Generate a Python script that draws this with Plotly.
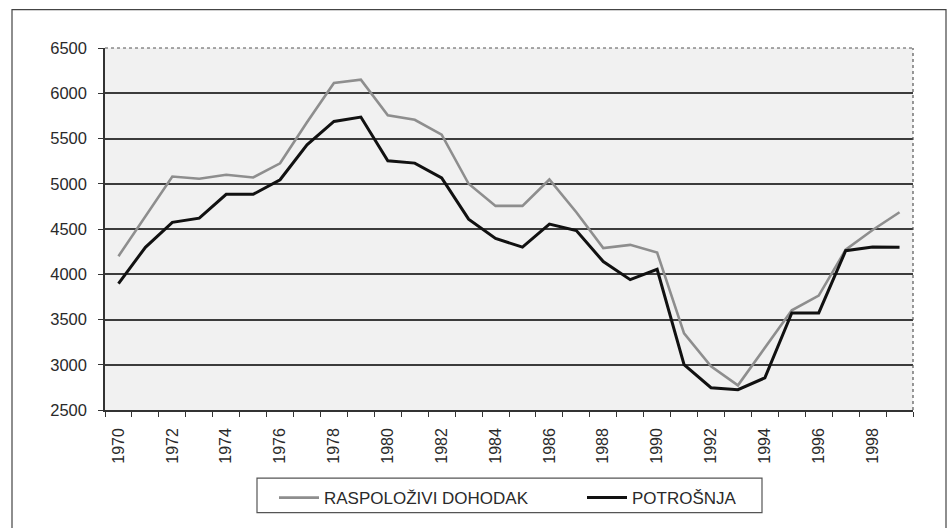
import plotly.graph_objects as go

years = list(range(1970, 2000))
raspolozivi_dohodak = [4200, 4640, 5080, 5055, 5100, 5070, 5226, 5680, 6113, 6150,
                       5757, 5707, 5543, 5000, 4755, 4755, 5047, 4685, 4290, 4325,
                       4240, 3347, 2982, 2772, 3182, 3602, 3764, 4271, 4489, 4685]
potrosnja = [3897, 4298, 4573, 4620, 4883, 4883, 5044, 5430, 5689, 5737,
             5254, 5228, 5065, 4609, 4395, 4300, 4555, 4482, 4140, 3940,
             4054, 3000, 2746, 2725, 2855, 3573, 3573, 4260, 4300, 4298]
x_tick_labels = [str(y) for y in range(1970, 2000, 2)]
y_ticks = list(range(2500, 7000, 500))

FONT = "Liberation Sans, Arial, sans-serif"
TXT = "#2a2a2a"

fig = go.Figure()
fig.add_trace(go.Scatter(x=years, y=raspolozivi_dohodak, mode="lines",
                         name="RASPOLOŽIVI DOHODAK",
                         line=dict(color="#8e8e8e", width=2.6)))
fig.add_trace(go.Scatter(x=years, y=potrosnja, mode="lines",
                         name="POTROŠNJA",
                         line=dict(color="#111111", width=3)))

L, R, T, B = 105, 913, 48, 415
W, H = 950, 528
pw, ph = R - L, B - T

def px(xp):
    return (xp - L) / pw

def py(yp):
    return (B - yp) / ph

fig.update_layout(
    width=W, height=H,
    margin=dict(l=L, r=W - R, t=T, b=H - B, pad=0),
    paper_bgcolor="white",
    plot_bgcolor="#f1f1f1",
    font=dict(family=FONT, size=16, color=TXT),
    showlegend=True,
    legend=dict(orientation="h", x=px(274), xanchor="left",
                y=py(486), yanchor="top",
                borderwidth=0,
                bgcolor="rgba(0,0,0,0)",
                font=dict(family=FONT, size=17, color=TXT),
                entrywidth=253, entrywidthmode="pixels",
                itemwidth=40, tracegroupgap=0),
    xaxis=dict(range=[1969.5, 1999.5], tickmode="array",
               tickvals=[int(t) for t in x_tick_labels], ticktext=x_tick_labels,
               tickangle=-90, ticks="", ticklen=0,
               showgrid=False, zeroline=False,
               showline=True, linecolor="#333333", linewidth=1.5,
               mirror=False, ticklabelstandoff=10,
               tickfont=dict(family=FONT, size=16, color=TXT),
               minor=dict(tickmode="linear", tick0=1969.5, dtick=1,
                          ticks="outside", ticklen=5, tickcolor="#333333",
                          tickwidth=1.2, showgrid=False)),
    yaxis=dict(range=[2500, 6500], tickvals=y_ticks,
               ticks="outside", ticklen=5, tickcolor="#333333", tickwidth=1.2,
               showgrid=True, gridcolor="#3c3c3c", gridwidth=1.5,
               zeroline=False, showline=True, linecolor="#333333", linewidth=1.5,
               ticklabelstandoff=8,
               tickfont=dict(family=FONT, size=16.5, color=TXT)),
    shapes=[
        # plot top/right border (dotted as in the scan)
        dict(type="line", xref="paper", yref="paper", x0=0, x1=1, y0=1, y1=1,
             line=dict(color="#555555", width=1.2, dash="dot")),
        dict(type="line", xref="paper", yref="paper", x0=1, x1=1, y0=0, y1=1,
             line=dict(color="#555555", width=1.2, dash="dot")),
        # legend box
        dict(type="rect", xref="paper", yref="paper",
             x0=px(257), x1=px(762), y0=py(519), y1=py(484),
             line=dict(color="#555555", width=1.2)),
        # outer chart frame
        dict(type="rect", xref="paper", yref="paper",
             x0=px(12), x1=px(946), y0=py(540), y1=py(9),
             line=dict(color="#444444", width=1.2), layer="below"),
    ],
)

fig.write_html("out.html",
               config={"displayModeBar": False},
               post_script="document.body.style.margin='0px';"
                           "document.body.style.overflow='hidden';")
